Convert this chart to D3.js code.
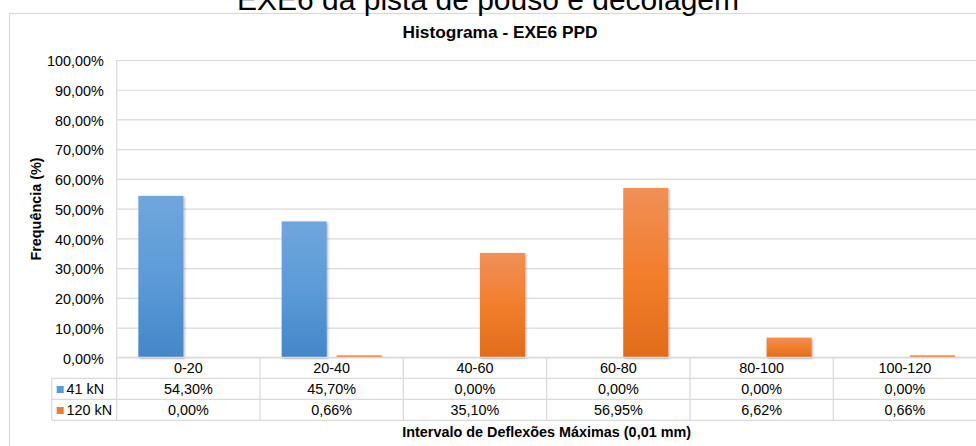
<!DOCTYPE html>
<html>
<head>
<meta charset="utf-8">
<script src="https://cdn.jsdelivr.net/npm/d3@7"></script>
<style>
  html, body { margin: 0; padding: 0; background: #fff; overflow: hidden; }
  svg { display: block; font-family: "Liberation Sans", Arial, sans-serif; }
</style>
</head>
<body>
<svg id="chart" width="976" height="446"></svg>
<script>
const categories = ["0-20", "20-40", "40-60", "60-80", "80-100", "100-120"];
const seriesNames = ["41 kN", "120 kN"];
const values41 = [0.5430, 0.4570, 0.0000, 0.0000, 0.0000, 0.0000];
const values120 = [0.0000, 0.0066, 0.3510, 0.5695, 0.0662, 0.0066];
const yTicks = [0, 0.1, 0.2, 0.3, 0.4, 0.5, 0.6, 0.7, 0.8, 0.9, 1.0];
const titleText = "EXE6 da pista de pouso e decolagem";
const subtitleText = "Histograma - EXE6 PPD";
const yAxisTitle = "Frequência (%)";
const xAxisTitle = "Intervalo de Deflexões Máximas (0,01 mm)";

const seriesValues = [values41, values120];
const colors = ["#5b9bd5", "#ed7d31"];
const gradTop = ["#70a6dc", "#f08f58"];
const gradMid = ["#5b9bd8", "#f27e2c"];
const gradBot = ["#4486c8", "#e26c1c"];

const fmt = v => (v * 100).toFixed(2).replace(".", ",") + "%";

const svg = d3.select("#chart");
const grid = "#d9d9d9";
const textCol = "#000";

const plotL = 116.7, plotR = 976.6, plotT = 60, plotB = 357.3;
const rowH = 21;
const legendL = 51.7;

const defs = svg.append("defs");
seriesNames.forEach((s, i) => {
  const g = defs.append("linearGradient").attr("id", "grad" + i)
    .attr("x1", 0).attr("y1", 0).attr("x2", 0).attr("y2", 1);
  g.append("stop").attr("offset", "0%").attr("stop-color", gradTop[i]);
  g.append("stop").attr("offset", "50%").attr("stop-color", gradMid[i]);
  g.append("stop").attr("offset", "100%").attr("stop-color", gradBot[i]);
});
const f = defs.append("filter").attr("id", "shadow").attr("x", "-20%").attr("y", "-20%").attr("width", "150%").attr("height", "150%");
f.append("feDropShadow").attr("dx", 1.2).attr("dy", 1.2).attr("stdDeviation", 1).attr("flood-color", "#000").attr("flood-opacity", 0.3);

// chart area border
svg.append("rect").attr("x", 9.5).attr("y", 13.5).attr("width", 1000).attr("height", 500)
  .attr("fill", "#fff").attr("stroke", grid).attr("stroke-width", 1.2);

// Title
svg.append("text").attr("x", 488).attr("y", 10).attr("text-anchor", "middle")
  .attr("font-size", "30px").attr("fill", textCol).text(titleText);
svg.append("text").attr("x", 500).attr("y", 37.7).attr("text-anchor", "middle")
  .attr("font-size", "17.3px").attr("font-weight", "bold").attr("fill", textCol).text(subtitleText);

const x = d3.scaleBand().domain(categories).range([plotL, plotR]).padding(0);
const xInner = d3.scaleBand().domain(seriesNames)
  .range([x.bandwidth() / 2 - 50, x.bandwidth() / 2 + 50]).paddingInner(0.18);
const y = d3.scaleLinear().domain([0, 1]).range([plotB, plotT]);

// gridlines
const yAxis = d3.axisLeft(y).tickValues(yTicks).tickSize(-(plotR - plotL)).tickFormat(fmt).tickPadding(13);
const gy = svg.append("g").attr("transform", `translate(${plotL},0)`).call(yAxis);
gy.select(".domain").remove();
gy.selectAll(".tick line").attr("stroke", grid).attr("stroke-width", 1.2);
gy.selectAll(".tick text").attr("font-size", "14.4px").attr("fill", textCol)
  .attr("font-family", "Liberation Sans, Arial, sans-serif").attr("dy", "0.4em");

// bars
const groups = svg.append("g").selectAll("g").data(categories).join("g")
  .attr("transform", d => `translate(${x(d)},0)`);
groups.selectAll("rect").data((c, ci) => seriesNames.map((s, si) => ({ s, si, v: seriesValues[si][ci] })))
  .join("rect")
  .filter(d => d.v > 0)
  .attr("x", d => xInner(d.s))
  .attr("width", xInner.bandwidth())
  .attr("y", d => y(d.v))
  .attr("height", d => plotB - y(d.v))
  .attr("fill", d => `url(#grad${d.si})`)
  .attr("filter", "url(#shadow)");
groups.selectAll("rect").filter(d => d.v === 0).remove();

// data table lines
const tbl = svg.append("g").attr("stroke", grid).attr("stroke-width", 1.2);
tbl.append("line").attr("x1", plotL).attr("x2", plotR + 5).attr("y1", plotB).attr("y2", plotB);
[1, 2, 3].forEach(r => {
  tbl.append("line").attr("x1", legendL).attr("x2", plotR + 5)
    .attr("y1", plotB + r * rowH).attr("y2", plotB + r * rowH);
});
tbl.append("line").attr("x1", plotL).attr("x2", plotL).attr("y1", plotT).attr("y2", plotB + 3 * rowH);
tbl.append("line").attr("x1", legendL).attr("x2", legendL).attr("y1", plotB + rowH).attr("y2", plotB + 3 * rowH);
categories.forEach((c, i) => {
  if (i === 0) return;
  tbl.append("line").attr("x1", x(c)).attr("x2", x(c)).attr("y1", plotB).attr("y2", plotB + 3 * rowH);
});

// category labels
svg.append("g").selectAll("text").data(categories).join("text")
  .attr("x", d => x(d) + x.bandwidth() / 2).attr("y", plotB + 16)
  .attr("text-anchor", "middle").attr("font-size", "14.4px").attr("fill", textCol).text(d => d);

// table values
seriesNames.forEach((s, si) => {
  const rowY = plotB + (si + 1) * rowH;
  svg.append("g").selectAll("text").data(categories).join("text")
    .attr("x", d => x(d) + x.bandwidth() / 2).attr("y", rowY + 16)
    .attr("text-anchor", "middle").attr("font-size", "14.4px").attr("fill", textCol)
    .text((d, i) => fmt(seriesValues[si][i]));
  svg.append("rect").attr("x", 56.7).attr("y", rowY + 7.7).attr("width", 7).attr("height", 7).attr("fill", colors[si]);
  svg.append("text").attr("x", 66.5).attr("y", rowY + 16).attr("font-size", "14.4px").attr("fill", textCol).text(s);
});

// axis titles
svg.append("text").attr("transform", `translate(40.5,209) rotate(-90)`).attr("text-anchor", "middle")
  .attr("font-size", "14.4px").attr("font-weight", "bold").attr("fill", textCol).text(yAxisTitle);
svg.append("text").attr("x", (plotL + plotR) / 2).attr("y", 436.5).attr("text-anchor", "middle")
  .attr("font-size", "14.4px").attr("font-weight", "bold").attr("fill", textCol).text(xAxisTitle);
</script>
</body>
</html>
